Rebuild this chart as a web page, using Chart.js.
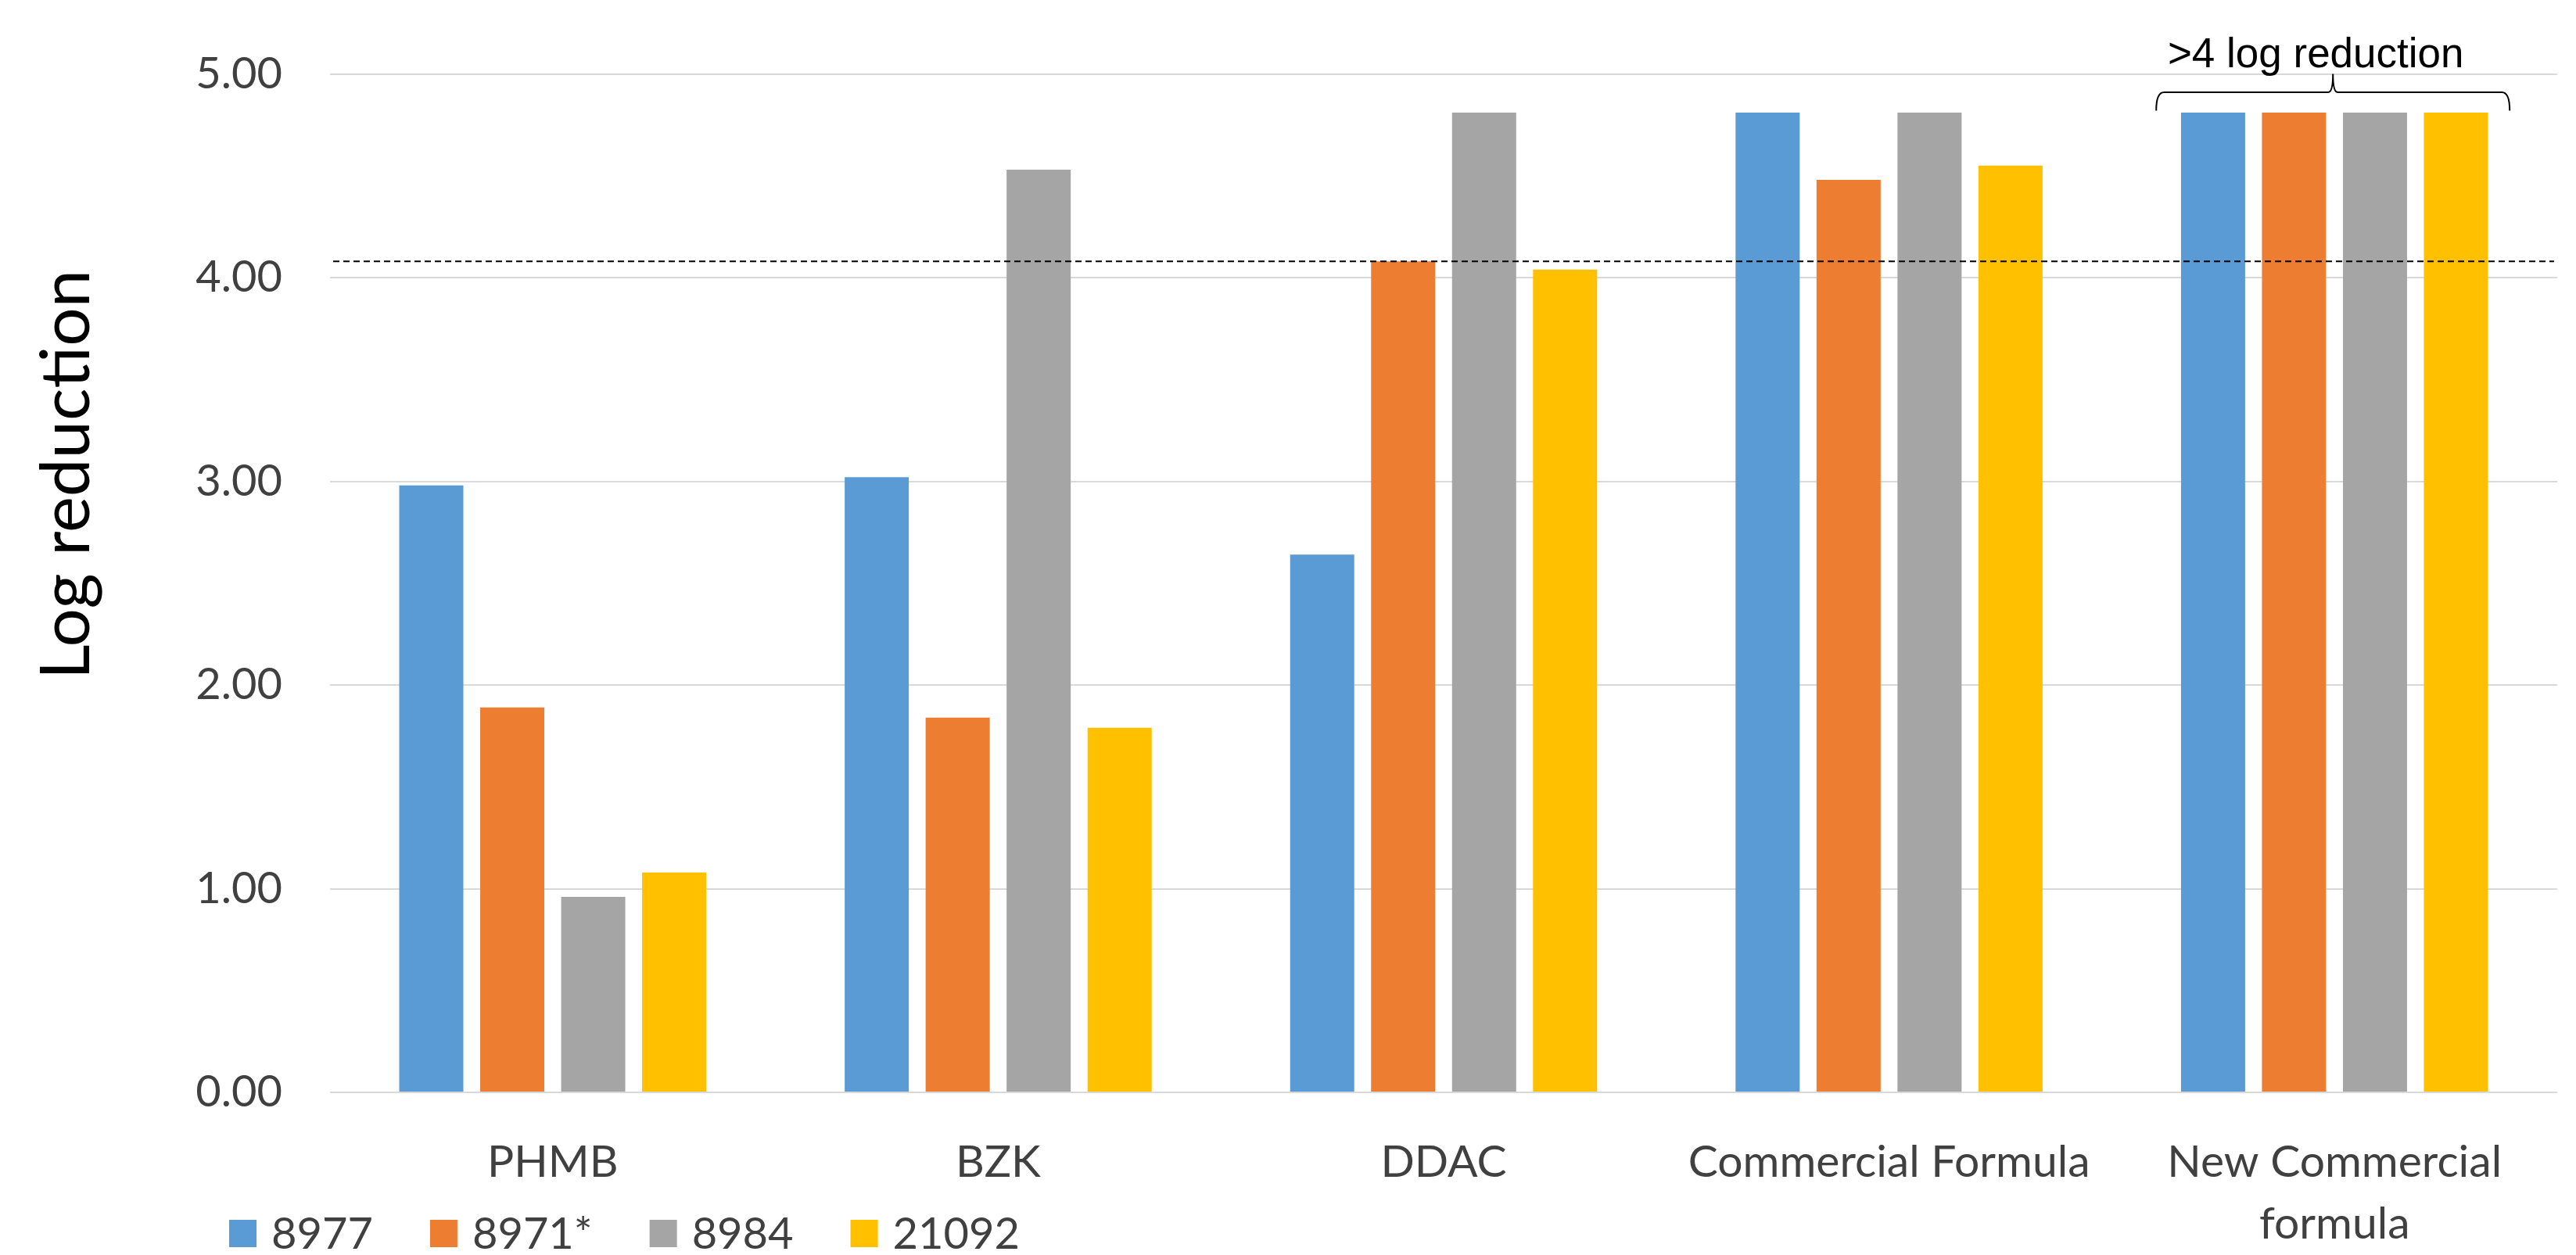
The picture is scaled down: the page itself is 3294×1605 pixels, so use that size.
<!DOCTYPE html>
<html>
<head>
<meta charset="utf-8">
<script src="https://cdn.jsdelivr.net/npm/chart.js@4.4.1/dist/chart.umd.min.js"></script>
<style>
    html, body { margin: 0; padding: 0; background: #ffffff; }
    #wrap { width: 3294px; height: 1605px; position: relative; }
</style>
</head>
<body>
<div id="wrap"><canvas id="logChart"></canvas></div>
<script>
const categories = ['PHMB', 'BZK', 'DDAC', 'Commercial Formula', ['New Commercial', 'formula']];
const strainNames = ['8977', '8971*', '8984', '21092'];
const strain8977 = [2.98, 3.02, 2.64, 4.81, 4.81];
const strain8971 = [1.89, 1.84, 4.08, 4.48, 4.81];
const strain8984 = [0.96, 4.53, 4.81, 4.81, 4.81];
const strain21092 = [1.08, 1.79, 4.04, 4.55, 4.81];
const yTicks = [0, 1, 2, 3, 4, 5];
const thresholdValue = 4.08;
const axisTitle = 'Log reduction';
const noteText = '>4 log reduction';

const colors = ['#5B9BD5', '#ED7D31', '#A5A5A5', '#FFC000'];
const textGrey = '#404040';

function makeDataset(label, values, color) {
    return {
        label: label,
        data: values,
        backgroundColor: color,
        borderWidth: 0,
        categoryPercentage: 0.727,
        barPercentage: 0.792
    };
}

// extra drawing: threshold line, brace + note, rotated axis title, legend
const extrasPlugin = {
    id: 'extras',
    afterDatasetsDraw(chart) {
        const ctx = chart.ctx;
        const area = chart.chartArea;
        const x = chart.scales.x;
        const y = chart.scales.y;

        // dashed threshold line
        const ty = y.getPixelForValue(thresholdValue);
        ctx.save();
        ctx.strokeStyle = '#000000';
        ctx.lineWidth = 2;
        ctx.setLineDash([8, 5]);
        ctx.beginPath();
        ctx.moveTo(area.left + 4, ty);
        ctx.lineTo(area.right - 4, ty);
        ctx.stroke();
        ctx.restore();

        // brace over last group
        const xc = x.getPixelForValue(categories.length - 1) - 2;
        const xl = xc - 226;
        const xr = xc + 226;
        const yb = y.getPixelForValue(4.82);
        const ym = y.getPixelForValue(4.91);
        const yt = y.getPixelForValue(5.0);
        ctx.save();
        ctx.strokeStyle = '#000000';
        ctx.lineWidth = 2;
        ctx.beginPath();
        ctx.moveTo(xl, yb);
        ctx.quadraticCurveTo(xl, ym, xl + 10, ym);
        ctx.lineTo(xc - 6, ym);
        ctx.quadraticCurveTo(xc, ym, xc, yt);
        ctx.quadraticCurveTo(xc, ym, xc + 6, ym);
        ctx.lineTo(xr - 10, ym);
        ctx.quadraticCurveTo(xr, ym, xr, yb);
        ctx.stroke();

        ctx.fillStyle = '#000000';
        ctx.font = '53px "Liberation Sans", Arial, sans-serif';
        ctx.textAlign = 'center';
        ctx.textBaseline = 'alphabetic';
        ctx.fillText(noteText, xc - 22, yt - 9);
        ctx.restore();

        // y axis title
        ctx.save();
        ctx.translate(114, 607);
        ctx.rotate(-Math.PI / 2);
        ctx.fillStyle = '#000000';
        ctx.font = '87px Lato, "Open Sans", sans-serif';
        ctx.textAlign = 'center';
        ctx.textBaseline = 'alphabetic';
        ctx.fillText(axisTitle, 0, 0);
        ctx.restore();

        // legend
        ctx.save();
        ctx.font = '56px Lato, "Open Sans", sans-serif';
        ctx.textAlign = 'left';
        ctx.textBaseline = 'middle';
        let lx = 293;
        const ly = 1577;
        chart.data.datasets.forEach(ds => {
            ctx.fillStyle = ds.backgroundColor;
            ctx.fillRect(lx, ly - 17, 35, 35);
            ctx.fillStyle = textGrey;
            ctx.fillText(ds.label, lx + 54, ly + 2);
            lx += 54 + ctx.measureText(ds.label).width + 73;
        });
        ctx.restore();
    }
};

const ctx = document.getElementById('logChart').getContext('2d');

let logChart = new Chart(ctx, {
    type: 'bar',
    data: {
        labels: categories,
        datasets: [
            makeDataset(strainNames[0], strain8977, colors[0]),
            makeDataset(strainNames[1], strain8971, colors[1]),
            makeDataset(strainNames[2], strain8984, colors[2]),
            makeDataset(strainNames[3], strain21092, colors[3])
        ]
    },
    options: {
        responsive: true,
        maintainAspectRatio: false,
        animation: false,
        devicePixelRatio: 1,
        layout: {
            padding: { top: 93, right: 24, bottom: 0, left: 0 }
        },
        plugins: {
            legend: { display: false },
            tooltip: { enabled: false }
        },
        scales: {
            x: {
                grid: { display: false },
                border: { display: false },
                ticks: {
                    color: textGrey,
                    font: { family: 'Lato, "Open Sans", sans-serif', size: 57, lineHeight: 1.37 },
                    padding: 43,
                    maxRotation: 0,
                    autoSkip: false
                },
                afterFit: function (scale) {
                    scale.height = 208;
                }
            },
            y: {
                min: 0,
                max: 5,
                afterBuildTicks: function (scale) {
                    scale.ticks = yTicks.map(v => ({ value: v }));
                },
                ticks: {
                    color: textGrey,
                    font: { family: 'Lato, "Open Sans", sans-serif', size: 56 },
                    padding: 61,
                    callback: v => Number(v).toFixed(2)
                },
                grid: { color: '#D9D9D9', lineWidth: 2, drawTicks: false },
                border: { display: false },
                afterFit: function (scale) {
                    scale.width = 422;
                }
            }
        }
    },
    plugins: [extrasPlugin]
});
</script>
</body>
</html>
